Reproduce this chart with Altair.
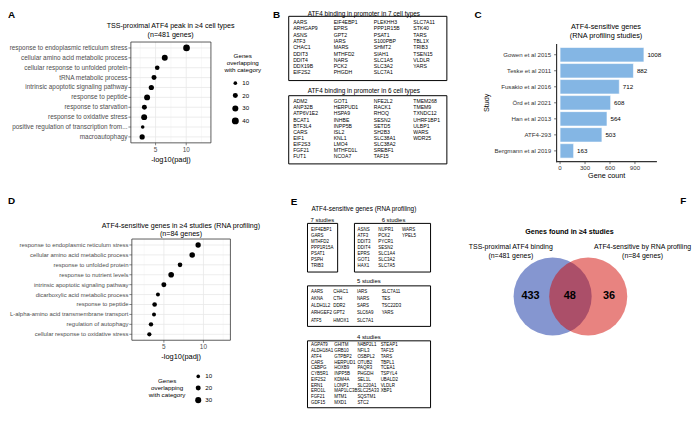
import altair as alt
import pandas as pd

FONT = "Liberation Sans"
W, H = 692, 414
OX, OY = 8, 8          # page margin offset


def X(v):
    return round(v - OX, 2)


def Y(v):
    return round(v - OY, 2)


# ---------------- data ----------------
a_terms = ["response to endoplasmic reticulum stress", "cellular amino acid metabolic process",
           "cellular response to unfolded protein", "tRNA metabolic process",
           "intrinsic apoptotic signaling pathway", "response to peptide",
           "response to starvation", "response to oxidative stress",
           "positive regulation of transcription from...", "macroautophagy"]
a_padj = [10.05, 6.5, 5.27, 4.75, 4.31, 3.62, 3.18, 3.14, 2.9, 2.81]
a_genes = [37, 29, 17, 20, 22, 29, 20, 29, 10, 22]

d_terms = ["response to endoplasmic reticulum stress", "cellular amino acid metabolic process",
           "response to unfolded protein", "response to nutrient levels",
           "intrinsic apoptotic signaling pathway", "dicarboxylic acid metabolic process",
           "response to peptide", "L-alpha-amino acid transmembrane transport",
           "regulation of autophagy", "cellular response to oxidative stress"]
d_padj = [9.33, 8.58, 7.04, 5.92, 5.0, 4.25, 3.83, 3.75, 3.37, 3.16]
d_genes = [23, 25, 17, 26, 20, 12, 17, 12, 15, 14]
padj_ticks = [5, 10]

c_studies = ["Gowen et al 2015", "Teske et al 2011", "Fusakio et al 2016", "Örd et al 2021",
             "Han et al 2013", "ATF4-293", "Bergmann et al 2019"]
c_counts = [1008, 882, 712, 608, 564, 503, 163]
c_ticks = [0, 300, 600, 900]

b7_cols = [["AARS", "ARHGAP9", "ASNS", "ATF3", "CHAC1", "DDIT3", "DDIT4", "DDX19B", "EIF2S2"],
           ["EIF4EBP1", "EPRS", "GPT2", "IARS", "MARS", "MTHFD2", "NARS", "PCK2", "PHGDH"],
           ["PLEKHH3", "PPP1R15B", "PSAT1", "S100PBP", "SHMT2", "SIAH1", "SLC1A5", "SLC3A2", "SLC7A1"],
           ["SLC7A11", "STK40", "TARS", "TBL1X", "TRIB3", "TSEN15", "VLDLR", "YARS"]]
b6_cols = [["ADM2", "ANP32B", "ATP6V1E2", "BCAT1", "BTF3L4", "CARS", "EIF1", "EIF2S3", "FGF21", "FUT1"],
           ["GOT1", "HERPUD1", "HSPA9", "INHBE", "INPP5B", "ISL2", "KNL1", "LMO4", "MTHFD1L", "NCOA7"],
           ["NFE2L2", "RACK1", "RHOQ", "SESN2", "SETD5", "SH2B3", "SLC38A1", "SLC38A2", "SREBF1", "TAF15"],
           ["TMEM268", "TMEM9", "TXNDC12", "UHRF1BP1", "ULBP1", "WARS", "WDR25"]]

e7_cols = [["EIF4EBP1", "GARS", "MTHFD2", "PPP1R15A", "PSAT1", "PSPH", "TRIB3"]]
e6_cols = [["ASNS", "ATF3", "DDIT3", "DDIT4", "EPRS", "GOT1", "HAX1"],
           ["NUPR1", "PCK2", "PYCR1", "SESN2", "SLC1A4", "SLC3A2", "SLC7A5"],
           ["WARS", "YPEL5"]]
e5_cols = [["AARS", "AKNA", "ALDH1L2", "ARHGEF2", "ATF5"],
           ["CHAC1", "CTH", "DDR2", "GPT2", "HMOX1"],
           ["IARS", "NARS", "SARS", "SLC6A9", "SLC7A1"],
           ["SLC7A11", "TES", "TSC22D3", "YARS"]]
e4_cols = [["AGPAT9", "ALDH18A1", "ATF4", "CARS", "CEBPG", "CYB5R1", "EIF2S2", "ERN1", "ERO1L", "FGF21", "GDF15"],
           ["GHITM", "GRB10", "GTPBP2", "HERPUD1", "HOXB9", "INPP5B", "KDM4A", "LONP1", "MAP1LC3B", "MTM1", "MXD1"],
           ["N4BP2L1", "NFIL3", "OSBPL2", "OTUB2", "PAQR3", "PHGDH", "SEL1L", "SLC20A1", "SLC25A33", "SQSTM1", "STC2"],
           ["STEAP1", "TAF15", "TARS", "TBPL1", "TCEA1", "TSPYL4", "UBALD2", "VLDLR", "XBP1"]]

f_sets = ["TSS-proximal ATF4 binding", "ATF4-sensitive by RNA profiling"]
f_set_n = [481, 84]
f_regions = ["binding only", "both", "RNA profiling only"]
f_region_n = [433, 48, 36]


# ---------------- helpers ----------------
def txt(s, x, y, size=6.5, bold=False, align="center", baseline="middle", color="black", angle=0):
    return alt.Chart(pd.DataFrame({"t": [s]})).mark_text(
        font=FONT, fontSize=size, fontWeight="bold" if bold else "normal",
        align=align, baseline=baseline, color=color, angle=angle
    ).encode(x=alt.value(x), y=alt.value(y), text="t:N")


def box(x1, y1, x2, y2, color="black", width=1.0):
    return alt.Chart(pd.DataFrame({"t": [0]})).mark_rect(
        fillOpacity=0, stroke=color, strokeWidth=width
    ).encode(x=alt.value(x1), x2=alt.value(x2), y=alt.value(y1), y2=alt.value(y2))


def line(x1, y1, x2, y2, color="#333333", width=1.0):
    return alt.Chart(pd.DataFrame({"t": [0]})).mark_rule(color=color, strokeWidth=width).encode(
        x=alt.value(x1), x2=alt.value(x2), y=alt.value(y1), y2=alt.value(y2))


def gene_list(columns, col_x, row_y, size):
    recs = [{"gene": g, "col": ci, "row": ri}
            for ci, col in enumerate(columns) for ri, g in enumerate(col)]
    df = pd.DataFrame(recs)
    if len(col_x) == 1:
        xdom, xr = [0, 1], [col_x[0], col_x[0] + 1]
    else:
        xdom, xr = list(range(len(col_x))), col_x
    nrow = max(len(c) for c in columns)
    return alt.Chart(df).mark_text(font=FONT, fontSize=size, align="left",
                                   baseline="middle", color="black").encode(
        x=alt.X("col:Q", scale=alt.Scale(domain=xdom, range=xr, nice=False, zero=False), axis=None),
        y=alt.Y("row:Q", scale=alt.Scale(domain=[0, nrow - 1], range=row_y, nice=False, zero=False),
                axis=None),
        text="gene:N")


SIZE_SCALE = dict(domain=[10, 40], range=[13.7, 49], zero=False, nice=False)


def dot_panel(terms, padj, genes, fx0, fx1, fy0, fy1, xdom, legend, label_fs=6.5):
    df = pd.DataFrame({"term": terms, "padj": padj, "genes": genes})
    tick_df = pd.DataFrame({"g": padj_ticks})
    xs = alt.Scale(domain=xdom, range=[fx0, fx1], nice=False, zero=False)
    ys = alt.Scale(type="point", domain=terms, range=[fy0, fy1], padding=0.6)
    gmin = alt.Chart(pd.DataFrame({"g": [2.5, 7.5, 12.5]})).mark_rule(
        color="#f3f3f3", strokeWidth=0.5).encode(
        x=alt.X("g:Q", scale=xs, axis=None), y=alt.value(fy0), y2=alt.value(fy1))
    gmaj = alt.Chart(tick_df).mark_rule(color="#e8e8e8", strokeWidth=0.8).encode(
        x=alt.X("g:Q", scale=xs, axis=None), y=alt.value(fy0), y2=alt.value(fy1))
    gh = alt.Chart(df).mark_rule(color="#e8e8e8", strokeWidth=0.8).encode(
        y=alt.Y("term:N", scale=ys, axis=None), x=alt.value(fx0), x2=alt.value(fx1))
    pts = alt.Chart(df).mark_circle(color="black", opacity=1).encode(
        x=alt.X("padj:Q", scale=xs, axis=None),
        y=alt.Y("term:N", scale=ys, axis=None),
        size=alt.Size("genes:Q", scale=alt.Scale(**SIZE_SCALE), legend=legend))
    frame = box(fx0, fy0, fx1, fy1, color="#333333", width=0.8)
    # axis: ticks + labels through the same scales
    yt = alt.Chart(df).mark_rule(color="#333333", strokeWidth=0.6).encode(
        y=alt.Y("term:N", scale=ys, axis=None), x=alt.value(fx0 - 2.5), x2=alt.value(fx0))
    yl = alt.Chart(df).mark_text(font=FONT, fontSize=label_fs, color="#4d4d4d", align="right",
                                 baseline="middle").encode(
        y=alt.Y("term:N", scale=ys, axis=None), x=alt.value(fx0 - 3.4), text="term:N")
    xt = alt.Chart(tick_df).mark_rule(color="#333333", strokeWidth=0.6).encode(
        x=alt.X("g:Q", scale=xs, axis=None), y=alt.value(fy1), y2=alt.value(fy1 + 2.5))
    xl = alt.Chart(tick_df).mark_text(font=FONT, fontSize=6.5, color="#4d4d4d", align="center",
                                      baseline="middle").encode(
        x=alt.X("g:Q", scale=xs, axis=None), y=alt.value(fy1 + 7),
        text=alt.Text("g:Q", format="d"))
    xtitle = txt("-log10(padj)", round((fx0 + fx1) / 2, 2), fy1 + 17, 7.5)
    return alt.layer(gmin, gmaj, gh, pts, frame, yt, yl, xt, xl, xtitle)


def size_legend(lx, ly, values, row_pad, label_offset):
    return alt.Legend(title=None, orient="none", legendX=lx, legendY=ly, direction="vertical",
                      values=values, labelFont=FONT, labelFontSize=6.2, labelColor="black",
                      labelOffset=label_offset, rowPadding=row_pad, symbolFillColor="black",
                      symbolStrokeWidth=0, symbolOpacity=1)


layers = []

# ---------------- Panel A ----------------
layers += [txt("TSS-proximal ATF4 peak in ≥4 cell types", X(172.5), Y(24), 7.2),
           txt("(n=481 genes)", X(172.5), Y(32.5), 7.2)]
layers.append(dot_panel(a_terms, a_padj, a_genes, X(132.3), X(213.3), Y(40), Y(142),
                        [0.97, 14.03], size_legend(226.5, 70.5, [10, 20, 30, 40], 5.6, 3.6)))
for i, ln in enumerate(["Genes", "overlapping", "with category"]):
    layers.append(txt(ln, X(245.5), Y(54.3 + 7.2 * i), 6.3))

# ---------------- Panel D ----------------
layers += [txt("ATF4-sensitive genes in ≥4 studies (RNA profiling)", X(183), Y(225.7), 7.2),
           txt("(n=84 genes)", X(183), Y(234.3), 7.2)]
layers.append(dot_panel(d_terms, d_padj, d_genes, X(133.3), X(233), Y(239.3), Y(341.7),
                        [0.95, 13.41], size_legend(188.95, 367.2, [10, 20, 30], 4.8, 3.6),
                        label_fs=6.0))
for i, ln in enumerate(["Genes", "overlapping", "with category"]):
    layers.append(txt(ln, X(169), Y(382.7 + 7.3 * i), 6.3))

# ---------------- Panel C ----------------
c_df = pd.DataFrame({"study": c_studies, "count": c_counts})
ct_df = pd.DataFrame({"g": c_ticks})
CX0, CX1, CY0, CY1 = X(563), X(664.5), Y(42), Y(161)
cxs = alt.Scale(domain=[-42, 1164], range=[CX0, CX1], nice=False, zero=False)
cys = alt.Scale(type="band", domain=c_studies, range=[CY0, CY1],
                paddingInner=0.1, paddingOuter=0.22)
c_bars = alt.Chart(c_df).mark_bar(color="#84b6e4", stroke="white", strokeWidth=0.6).encode(
    x=alt.X("count:Q", scale=cxs, axis=None),
    y=alt.Y("study:N", scale=cys, axis=None))
c_text = alt.Chart(c_df).mark_text(font=FONT, fontSize=6.3, align="left", baseline="middle",
                                   dx=3.5, color="black").encode(
    x=alt.X("count:Q", scale=cxs, axis=None),
    y=alt.Y("study:N", scale=cys, axis=None),
    text=alt.Text("count:Q", format="d"))
c_yt = alt.Chart(c_df).mark_rule(color="#333333", strokeWidth=0.7).encode(
    y=alt.Y("study:N", scale=cys, axis=None), x=alt.value(CX0 - 2.5), x2=alt.value(CX0))
c_yl = alt.Chart(c_df).mark_text(font=FONT, fontSize=6.2, color="#333333", align="right",
                                 baseline="middle").encode(
    y=alt.Y("study:N", scale=cys, axis=None), x=alt.value(CX0 - 5.5), text="study:N")
c_xt = alt.Chart(ct_df).mark_rule(color="#333333", strokeWidth=0.7).encode(
    x=alt.X("g:Q", scale=cxs, axis=None), y=alt.value(CY1), y2=alt.value(CY1 + 2.5))
c_xl = alt.Chart(ct_df).mark_text(font=FONT, fontSize=6.2, color="#333333", align="center",
                                  baseline="middle").encode(
    x=alt.X("g:Q", scale=cxs, axis=None), y=alt.value(CY1 + 6.5),
    text=alt.Text("g:Q", format="d"))
layers.append(alt.layer(c_bars, c_text, c_yt, c_yl, c_xt, c_xl))
layers += [line(CX0, CY0, CX0, CY1 + 0.6, width=1.2),
           line(CX0 - 0.6, CY1, CX1, CY1, width=1.2),
           txt("Gene count", round((CX0 + CX1) / 2, 2), Y(176), 7.3),
           txt("Study", X(492.7), round((CY0 + CY1) / 2, 2), 7.3, angle=270),
           txt("ATF4-sensitive genes", X(613), Y(25), 7.4),
           txt("(RNA profiling studies)", X(613), Y(34), 7.4)]

# ---------------- Panel B ----------------
B_FS = 5.2
b_cols_x = [X(296.5), X(337.5), X(378), X(418)]
layers += [txt("ATF4 binding in promoter in 7 cell types", X(368), 3.5, 6.5),
           box(X(292), Y(14), X(452), Y(79)),
           gene_list(b7_cols, b_cols_x, [Y(20), Y(70.7)], B_FS),
           txt("ATF4 binding in promoter in 6 cell types", X(368), Y(89.3), 6.5),
           box(X(292), Y(94.3), X(452), Y(163.3)),
           gene_list(b6_cols, b_cols_x, [Y(100), Y(155.5)], B_FS)]

# ---------------- Panel E ----------------
E_FS = 4.5
layers += [txt("ATF4-sensitive genes (RNA profiling)", X(368), Y(209), 6.5),
           txt("7 studies", X(326), Y(220), 6),
           txt("6 studies", X(398), Y(220), 6),
           box(X(311), Y(223.5), X(341.5), Y(272.7)),
           gene_list(e7_cols, [X(314.5)], [Y(230.5), Y(267)], E_FS),
           box(X(358.5), Y(223.5), X(435.5), Y(272.7)),
           gene_list(e6_cols, [X(361.7), X(382.7), X(406.7)], [Y(230.5), Y(267)], E_FS),
           txt("5 studies", X(373), Y(282.3), 6),
           box(X(311), Y(286.7), X(435.5), Y(327.7)),
           gene_list(e5_cols, [X(314.5), X(337), X(361), X(386)], [Y(292.5), Y(322)], E_FS),
           txt("4 studies", X(373), Y(338.3), 6),
           box(X(311), Y(342.3), X(435.5), Y(410)),
           gene_list(e4_cols, [X(314.5), X(338), X(361.5), X(385)], [Y(347), Y(405)], E_FS)]

# ---------------- Panel F ----------------
sets_df = pd.DataFrame({"set": f_sets, "n": f_set_n})
circles = alt.Chart(sets_df).mark_circle(opacity=0.5, size=79 * 79).encode(
    x=alt.X("set:N", scale=alt.Scale(type="point", domain=f_sets, range=[X(559), X(595)], padding=0),
            axis=None),
    y=alt.value(Y(297.5)),
    color=alt.Color("set:N", scale=alt.Scale(domain=f_sets, range=["#0b2da1", "#d10701"]),
                    legend=None))
reg_df = pd.DataFrame({"region": f_regions, "n": f_region_n})
counts = alt.Chart(reg_df).mark_text(font=FONT, fontSize=11, fontWeight="bold",
                                     color="black").encode(
    x=alt.X("region:N", scale=alt.Scale(type="point", domain=f_regions,
                                        range=[X(536.7), X(616)], padding=0), axis=None),
    y=alt.value(Y(297)),
    text=alt.Text("n:Q", format="d"))
layers += [circles, counts,
           txt("Genes found in ≥4 studies", X(576), Y(232.7), 7.2, bold=True),
           txt(f_sets[0], X(516.7), Y(247.7), 7),
           txt(f"(n={f_set_n[0]} genes)", X(516.7), Y(256.2), 7),
           txt(f_sets[1], X(650), Y(247.7), 7),
           txt(f"(n={f_set_n[1]} genes)", X(650), Y(256.2), 7)]

# ---------------- panel letters ----------------
for letter, x, y in [("A", 0, 0), ("B", X(276), 0), ("C", X(480), 0),
                     ("D", 0, Y(196)), ("E", X(294), Y(197)), ("F", X(688), Y(196))]:
    layers.append(txt(letter, x, y, 10, bold=True, align="left", baseline="top"))

chart = alt.layer(*layers).resolve_scale(
    x="independent", y="independent", size="independent", color="independent"
).resolve_legend(size="independent").properties(
    width=W, height=H, padding=0, autosize=alt.AutoSizeParams(type="none")
).configure_view(stroke=None)

chart.save("out.html", embed_options={"renderer": "svg", "actions": False})
